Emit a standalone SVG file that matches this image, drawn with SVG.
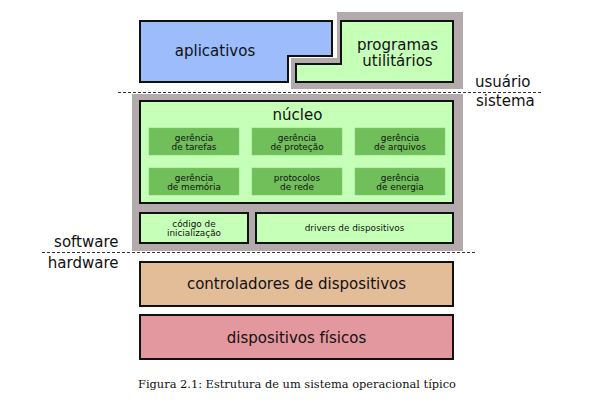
<svg xmlns="http://www.w3.org/2000/svg" width="606" height="406" viewBox="0 0 606 406">
<style>
.box{stroke:#111;stroke-width:2}
.green{fill:#c6ffb8}
.mod{fill:#70bf5a;stroke:#7fcc68;stroke-width:0.5}
.gray{fill:#b3abab}
.t{font-family:"DejaVu Sans",sans-serif;fill:#111;text-anchor:middle}
.big{font-size:15px}
.sm{font-size:8.9px}
.lbl{font-family:"DejaVu Sans",sans-serif;font-size:15px;fill:#111}
.dash{stroke:#333;stroke-width:1;stroke-dasharray:3,2;fill:none}
</style>
<rect width="606" height="406" fill="#fff"/>
<g id="background">
<polygon class="gray" points="337,12 463,12 463,89 291,89 291,58 337,58"/>
<rect class="gray" x="132" y="94" width="331" height="157"/>
</g>
<g id="aplicativos">
<path class="box" fill="#9cbcfc" d="M140,21 H332 V56 H288 V82 H140 Z"/>
<text class="t big" x="215" y="56">aplicativos</text>
</g>
<g id="utilitarios">
<path class="box green" d="M341,21 H453 V82 H296 V64 H341 Z"/>
<text class="t big" x="397.5" y="50">programas</text>
<text class="t big" x="397.5" y="65.5">utilitários</text>
</g>
<g id="nucleo">
<rect class="box green" x="140" y="101" width="313" height="102"/>
<text class="t big" x="297.5" y="119.5">núcleo</text>
</g>
<g id="ger-tarefas">
<rect class="mod" x="149" y="128" width="90" height="27"/>
<text class="t sm" x="194" y="140.5">gerência</text>
<text class="t sm" x="194" y="149.5">de tarefas</text>
</g>
<g id="ger-protecao">
<rect class="mod" x="252" y="128" width="90" height="27"/>
<text class="t sm" x="297" y="140.5">gerência</text>
<text class="t sm" x="297" y="149.5">de proteção</text>
</g>
<g id="ger-arquivos">
<rect class="mod" x="355" y="128" width="90" height="27"/>
<text class="t sm" x="400" y="140.5">gerência</text>
<text class="t sm" x="400" y="149.5">de arquivos</text>
</g>
<g id="ger-memoria">
<rect class="mod" x="149" y="168" width="90" height="27"/>
<text class="t sm" x="194" y="180.8">gerência</text>
<text class="t sm" x="194" y="189.6">de memória</text>
</g>
<g id="protocolos">
<rect class="mod" x="252" y="168" width="90" height="27"/>
<text class="t sm" x="297" y="180.8">protocolos</text>
<text class="t sm" x="297" y="189.6">de rede</text>
</g>
<g id="ger-energia">
<rect class="mod" x="355" y="168" width="90" height="27"/>
<text class="t sm" x="400" y="180.8">gerência</text>
<text class="t sm" x="400" y="189.6">de energia</text>
</g>
<g id="codigo">
<rect class="box green" x="140" y="213" width="108" height="30"/>
<text class="t sm" x="194" y="226.7">código de</text>
<text class="t sm" x="194" y="236">inicialização</text>
</g>
<g id="drivers">
<rect class="box green" x="256" y="213" width="197" height="30"/>
<text class="t sm" x="354.5" y="230.5">drivers de dispositivos</text>
</g>
<g id="controladores">
<rect class="box" fill="#e3bd98" x="140" y="262" width="313" height="44"/>
<text class="t big" x="296.5" y="288.5">controladores de dispositivos</text>
</g>
<g id="fisicos">
<rect class="box" fill="#e3979f" x="140" y="315" width="313" height="44"/>
<text class="t big" x="296.5" y="342.5">dispositivos físicos</text>
</g>
<g id="connectors">
<line class="dash" x1="118" y1="92.5" x2="542" y2="92.5"/>
<line class="dash" x1="42" y1="252.5" x2="475" y2="252.5"/>
</g>
<g id="labels">
<text class="lbl" x="475" y="87">usuário</text>
<text class="lbl" x="476" y="106">sistema</text>
<text class="lbl" x="118.5" y="247" text-anchor="end">software</text>
<text class="lbl" x="118.5" y="268" text-anchor="end">hardware</text>
</g>
<text x="297" y="388" font-family="'DejaVu Serif','Liberation Serif',serif" font-size="11.4px" fill="#111" text-anchor="middle">Figura 2.1: Estrutura de um sistema operacional típico</text>
</svg>
